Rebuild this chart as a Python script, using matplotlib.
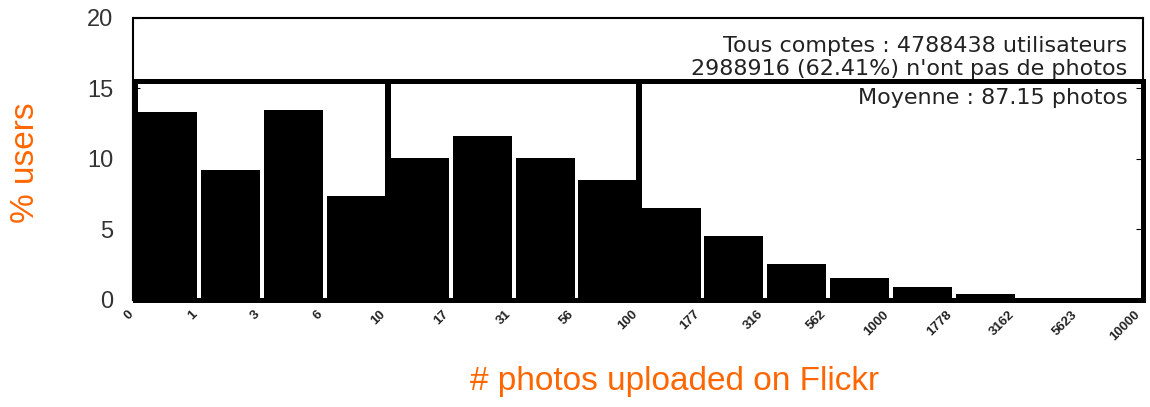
import numpy as np
import matplotlib.pyplot as plt
from matplotlib.patches import Rectangle

# bin edges (# photos) and % of users per bin
edges = ['0', '1', '3', '6', '10', '17', '31', '56', '100', '177', '316',
         '562', '1000', '1778', '3162', '5623', '10000']
pct_users = [13.3, 9.2, 13.5, 7.4, 10.1, 11.6, 10.1, 8.5, 6.5, 4.5, 2.55,
             1.55, 0.9, 0.4, 0.1, 0.05]
# highlighted groups (first bin, last bin) and box top
groups = [(0, 4), (4, 8), (8, 16)]
box_top = 15.5

info = ['Tous comptes : 4788438 utilisateurs',
        "2988916 (62.41%) n'ont pas de photos",
        'Moyenne : 87.15 photos']

orange = '#ff6600'
plt.rcParams['font.family'] = ['Liberation Sans', 'DejaVu Sans']

fig = plt.figure(figsize=(11.5, 4.07), dpi=100)
ax = fig.add_axes([0.1157, 0.263, 0.878, 0.693])

x = np.arange(len(pct_users))
ax.bar(x + 0.03, pct_users, width=0.94, align='edge', color='black')

for a, b in groups:
    ax.add_patch(Rectangle((a - 0.02, 0), b - a + 0.02, box_top, fill=False,
                           edgecolor='black', linewidth=3.6, clip_on=False,
                           zorder=5))

ax.set_xlim(-0.05, 16.0)
ax.set_ylim(0, 20)
ax.set_yticks([0, 5, 10, 15, 20])
ax.set_xticks(np.arange(len(edges)))
ax.set_xticklabels(edges, rotation=45, ha='right', va='top', fontsize=9.5,
                   fontweight='bold', color='#222222')
ax.tick_params(axis='y', direction='in', right=True, labelsize=17,
               labelcolor='#333333', pad=14, length=5)
ax.tick_params(axis='x', direction='in', length=5, color='white', pad=6)
for s in ax.spines.values():
    s.set_linewidth(1.5)

ys = [0.9, 0.82, 0.715]
for t, yy in zip(info, ys):
    ax.text(0.985, yy, t, transform=ax.transAxes, ha='right', va='center',
            fontsize=16, family='DejaVu Sans', color='#222222', zorder=6)

fig.text(0.022, 0.60, '% users', rotation=90, ha='center', va='center',
         fontsize=24, color=orange)
fig.text(0.587, 0.062, '# photos uploaded on Flickr', ha='center',
         va='center', fontsize=24, color=orange)

fig.savefig('out.png', dpi=100)
